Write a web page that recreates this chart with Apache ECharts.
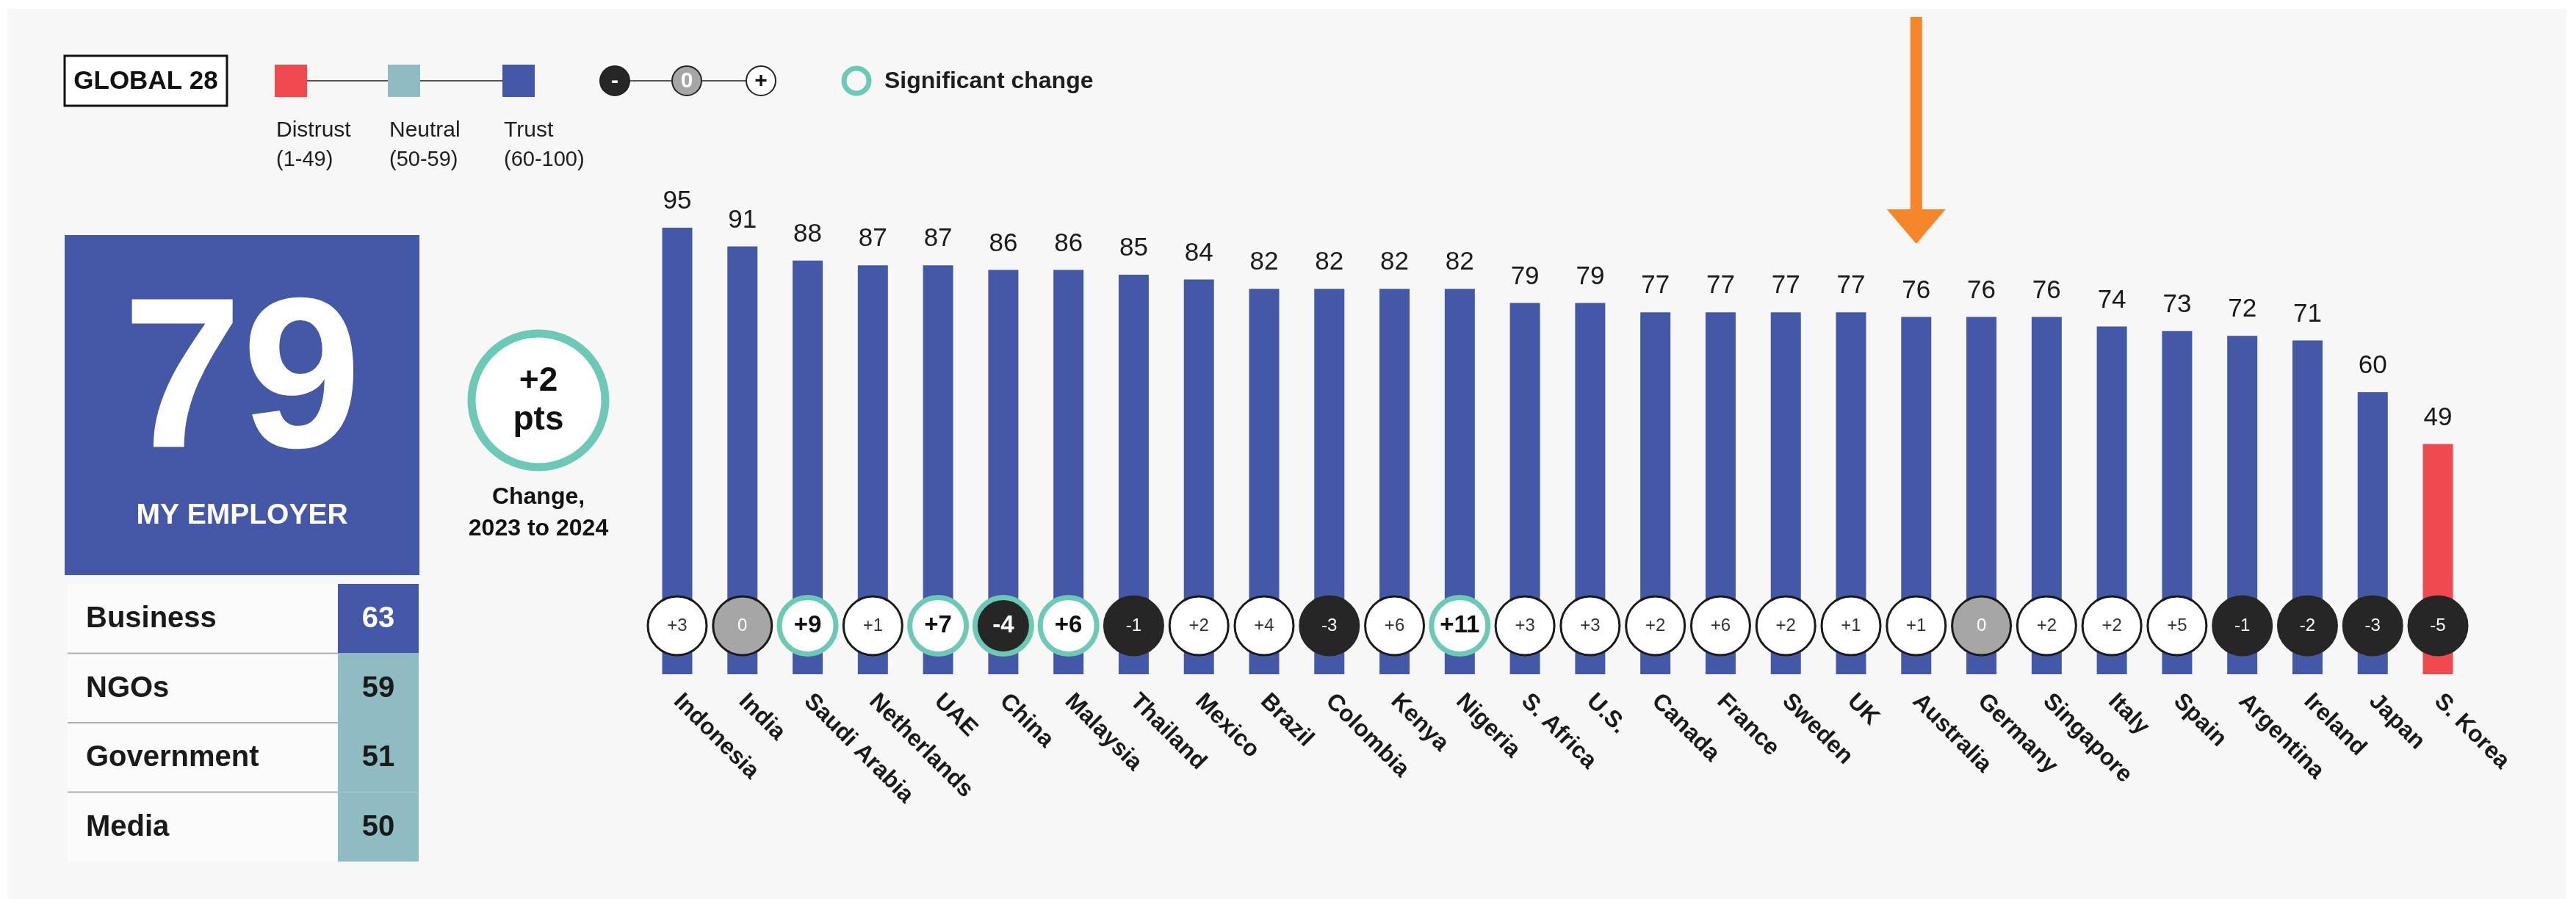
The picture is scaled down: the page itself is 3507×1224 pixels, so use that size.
<!DOCTYPE html>
<html>
<head>
<meta charset="utf-8">
<script src="https://cdn.jsdelivr.net/npm/echarts@6/dist/echarts.min.js"></script>
<style>
html,body{margin:0;padding:0;background:#ffffff;}
#chart{width:3507px;height:1224px;}
</style>
</head>
<body>
<div id="chart"></div>
<script>
// ---------------- DATA ----------------
const countries = ['Indonesia','India','Saudi Arabia','Netherlands','UAE','China','Malaysia','Thailand','Mexico','Brazil','Colombia','Kenya','Nigeria','S. Africa','U.S.','Canada','France','Sweden','UK','Australia','Germany','Singapore','Italy','Spain','Argentina','Ireland','Japan','S. Korea'];
const trustValues = [95,91,88,87,87,86,86,85,84,82,82,82,82,79,79,77,77,77,77,76,76,76,74,73,72,71,60,49];
const changeValues = [3,0,9,1,7,-4,6,-1,2,4,-3,6,11,3,3,2,6,2,1,1,0,2,2,5,-1,-2,-3,-5];
const significant = [0,0,1,0,1,1,1,0,0,0,0,0,1,0,0,0,0,0,0,0,0,0,0,0,0,0,0,0];
const highlightCountry = 'Australia';

const globalLabel = 'GLOBAL 28';
const employerScore = 79;
const employerLabel = 'MY EMPLOYER';
const employerChange = 2;
const institutions = ['Business','NGOs','Government','Media'];
const institutionValues = [63,59,51,50];

const legendNames = ['Distrust','Neutral','Trust'];
const legendRanges = ['(1-49)','(50-59)','(60-100)'];

// ---------------- STYLE ----------------
const FONT = '"Liberation Sans", Arial, Helvetica, sans-serif';
const BLUE = '#4458A7', TEAL = '#8FBCC3', RED = '#EE4A4F';
const SIG = '#6CC9B6', DARK = '#262626', GRAY = '#A6A6A6', TXT = '#1e1e1e';
function trustColor(v){ return v < 50 ? RED : (v < 60 ? TEAL : BLUE); }
function fmtChange(v){ return v > 0 ? '+' + v : String(v); }

const chart = echarts.init(document.getElementById('chart'), null, {renderer:'canvas'});

const GRID_LEFT = 877.6, GRID_RIGHT = 143.6;

const barData = trustValues.map(v => ({value: v, itemStyle: {color: trustColor(v)}}));

const scatterData = changeValues.map((v, i) => {
  const sig = significant[i] === 1;
  let fill = '#ffffff', border = '#1a1a1a', bw = 3, tcol = '#333333', fw = 'normal', fs = 24;
  if (v < 0) { fill = DARK; border = DARK; tcol = '#ffffff'; }
  else if (v === 0) { fill = GRAY; tcol = '#ffffff'; }
  if (sig) { border = SIG; bw = 7; fw = 'bold'; fs = 33; tcol = v < 0 ? '#ffffff' : '#111111'; }
  return {
    value: [i, 1],
    symbolSize: sig ? 77 : 80,
    itemStyle: {color: fill, borderColor: border, borderWidth: bw, opacity: 1},
    label: {show: true, position: 'inside', formatter: fmtChange(v), color: tcol, fontWeight: fw, fontSize: fs, fontFamily: FONT}
  };
});

// ---------------- GRAPHICS (layout) ----------------
const g = [];
g.push({type:'rect', z:-10, silent:true, shape:{x:10,y:12,width:3484,height:1212}, style:{fill:'#f7f7f7'}});
// Global 28 box
g.push({type:'rect', shape:{x:88,y:76,width:221,height:68}, style:{fill:'#ffffff', stroke:'#111111', lineWidth:3}});
g.push({type:'text', x:198.5, y:111, style:{text:globalLabel, font:'bold 35px ' + FONT, fill:'#111111', align:'center', verticalAlign:'middle'}});
// trust scale legend
const legX = [374, 528, 684], legC = [RED, TEAL, BLUE];
g.push({type:'line', shape:{x1:418,y1:110,x2:528,y2:110}, style:{stroke:'#555555', lineWidth:2}});
g.push({type:'line', shape:{x1:572,y1:110,x2:684,y2:110}, style:{stroke:'#555555', lineWidth:2}});
legX.forEach((x, i) => {
  g.push({type:'rect', shape:{x:x,y:88,width:44,height:44}, style:{fill:legC[i]}});
  g.push({type:'text', x:x+2, y:178, style:{text:legendNames[i], font:'30px ' + FONT, fill:TXT, verticalAlign:'middle'}});
  g.push({type:'text', x:x+2, y:218, style:{text:legendRanges[i], font:'29px ' + FONT, fill:TXT, verticalAlign:'middle'}});
});
// change legend circles
g.push({type:'line', shape:{x1:858,y1:110,x2:914,y2:110}, style:{stroke:'#555555', lineWidth:2}});
g.push({type:'line', shape:{x1:956,y1:110,x2:1015,y2:110}, style:{stroke:'#555555', lineWidth:2}});
[[837, DARK, '-', '#ffffff'], [935, GRAY, '0', '#ffffff'], [1036, '#ffffff', '+', '#111111']].forEach(c => {
  g.push({type:'circle', shape:{cx:c[0], cy:110, r:20}, style:{fill:c[1], stroke:'#222222', lineWidth:2}});
  g.push({type:'text', x:c[0], y:111, style:{text:c[2], font:'bold 30px ' + FONT, fill:c[3], align:'center', verticalAlign:'middle'}});
});
g.push({type:'circle', shape:{cx:1166, cy:110, r:17}, style:{fill:'none', stroke:SIG, lineWidth:7}});
g.push({type:'text', x:1204, y:111, style:{text:'Significant change', font:'bold 32px ' + FONT, fill:TXT, verticalAlign:'middle'}});
// Employer big box
g.push({type:'rect', shape:{x:88,y:320,width:483,height:463}, style:{fill:trustColor(employerScore)}});
g.push({type:'text', x:329.5, y:528, style:{text:String(employerScore), font:'bold 292px ' + FONT, fill:'#ffffff', align:'center', verticalAlign:'middle'}});
g.push({type:'text', x:329.5, y:702, style:{text:employerLabel, font:'bold 39px ' + FONT, fill:'#ffffff', align:'center', verticalAlign:'middle'}});
// change circle
g.push({type:'circle', shape:{cx:733, cy:545, r:91}, style:{fill:'#ffffff', stroke:SIG, lineWidth:11}});
g.push({type:'text', x:733, y:519, style:{text:fmtChange(employerChange), font:'bold 46px ' + FONT, fill:'#111111', align:'center', verticalAlign:'middle'}});
g.push({type:'text', x:733, y:572, style:{text:'pts', font:'bold 46px ' + FONT, fill:'#111111', align:'center', verticalAlign:'middle'}});
g.push({type:'text', x:733, y:677, style:{text:'Change,', font:'bold 32px ' + FONT, fill:'#111111', align:'center', verticalAlign:'middle'}});
g.push({type:'text', x:733, y:720, style:{text:'2023 to 2024', font:'bold 32px ' + FONT, fill:'#111111', align:'center', verticalAlign:'middle'}});
// institutions table
const ROW0 = 795, ROWH = 94.5;
institutions.forEach((name, i) => {
  const top = ROW0 + i * ROWH, v = institutionValues[i];
  g.push({type:'rect', shape:{x:92,y:top,width:368,height:ROWH}, style:{fill:'#fbfbfb'}});
  g.push({type:'rect', shape:{x:460,y:top,width:110,height:ROWH}, style:{fill:trustColor(v)}});
  if (i > 0) g.push({type:'line', shape:{x1:92,y1:top,x2:460,y2:top}, style:{stroke:'#b0b0b0', lineWidth:2}});
  g.push({type:'text', x:117, y:top+ROWH/2+1, style:{text:name, font:'bold 40px ' + FONT, fill:'#1a1a1a', verticalAlign:'middle'}});
  g.push({type:'text', x:515, y:top+ROWH/2+1, style:{text:String(v), font:'bold 40px ' + FONT, fill: v >= 60 ? '#ffffff' : '#1a1a1a', align:'center', verticalAlign:'middle'}});
});

const option = {
  backgroundColor: '#ffffff',
  animation: false,
  grid: [
    {left: GRID_LEFT, right: GRID_RIGHT, top: 278, height: 640},
    {left: GRID_LEFT, right: GRID_RIGHT, top: 811, height: 82}
  ],
  xAxis: [
    {type:'category', gridIndex:0, data:countries, axisLine:{show:false}, axisTick:{show:false},
     axisLabel:{interval:0, rotate:-45, margin:32, color:'#1a1a1a', fontWeight:'bold', fontSize:32, fontFamily:FONT}},
    {type:'category', gridIndex:1, data:countries, show:false}
  ],
  yAxis: [
    {type:'value', gridIndex:0, min:0, max:100, show:false},
    {type:'value', gridIndex:1, min:0, max:2, show:false}
  ],
  series: [
    {type:'bar', xAxisIndex:0, yAxisIndex:0, data:barData, barWidth:41, z:2,
     label:{show:true, position:'top', distance:18, color:'#1a1a1a', fontSize:35, fontFamily:FONT}},
    {type:'scatter', xAxisIndex:1, yAxisIndex:1, data:scatterData, symbol:'circle', z:5,
     itemStyle:{opacity:1}}
  ],
  graphic: g
};
chart.setOption(option);

// highlight arrow, placed via the category axis
const ax = chart.convertToPixel({xAxisIndex:0}, highlightCountry);
chart.setOption({graphic: g.concat([
  {type:'rect', shape:{x:ax-8, y:23, width:16, height:263}, style:{fill:'#F5862A'}},
  {type:'polygon', shape:{points:[[ax-40,285],[ax+40,285],[ax,332]]}, style:{fill:'#F5862A'}}
])});
</script>
</body>
</html>
